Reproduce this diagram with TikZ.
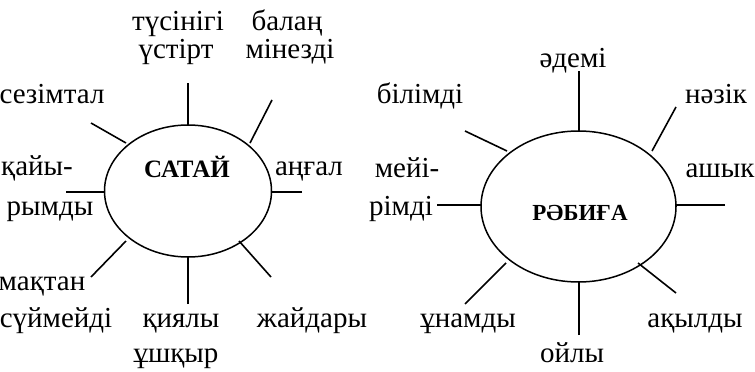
\documentclass[tikz,border=0pt]{standalone}
\usepackage{fontspec}
\setmainfont{Liberation Serif}
\usetikzlibrary{shapes.geometric}
\begin{document}
\begin{tikzpicture}[x=1pt,y=-1pt,
  lbl/.style={anchor=base,inner sep=0pt,font=\fontsize{29}{33}\selectfont},
  ttl/.style={anchor=base,inner sep=0pt,font=\fontsize{24}{28}\selectfont\bfseries},
  oval/.style={draw,ellipse,line width=1.5pt,inner sep=0pt},
  ray/.style={line width=1.6pt}]
\useasboundingbox (0,0) rectangle (755,372);
% left ellipse
\node[oval,minimum width=167pt,minimum height=132pt] (L) at (188,191) {};
\node[ttl,font=\fontsize{25}{28}\selectfont\bfseries] (Lt) at (187,177) {САТАЙ};
\node[lbl] (l1) at (178,30) {түсінігі};
\node[lbl] (l2) at (176,58) {үстірт};
\node[lbl] (l3) at (287,30) {балаң};
\node[lbl] (l4) at (290,58) {мінезді};
\node[lbl] (l5) at (52,103) {сезімтал};
\node[lbl] (l6) at (37,175) {қайы-};
\node[lbl] (l7) at (309,175) {аңғал};
\node[lbl] (l8) at (50,215) {рымды};
\node[lbl] (l9) at (42,290) {мақтан};
\node[lbl] (l10) at (56,327) {сүймейді};
\node[lbl] (l11) at (181,327) {қиялы};
\node[lbl] (l12) at (176,362) {ұшқыр};
\node[lbl] (l13) at (312,327) {жайдары};
% left rays
\coordinate (a1) at (188,83);  \coordinate (b1) at (188,125);
\coordinate (a2) at (272,100); \coordinate (b2) at (250,143);
\coordinate (a3) at (91,123);  \coordinate (b3) at (126,143);
\coordinate (a4) at (66,192);  \coordinate (b4) at (104.5,192);
\coordinate (a5) at (302,192); \coordinate (b5) at (271.5,192);
\coordinate (a6) at (91,277);  \coordinate (b6) at (126,241);
\coordinate (a7) at (188,304); \coordinate (b7) at (188,257);
\coordinate (a8) at (271,277); \coordinate (b8) at (239,241);
\foreach \i in {1,...,8} {\draw[ray] (a\i) -- (b\i);}
% right ellipse
\node[oval,minimum width=195pt,minimum height=151pt] (R) at (578.5,206.5) {};
\node[ttl,font=\fontsize{23}{26}\selectfont\bfseries] (Rt) at (580,220) {РӘБИҒА};
\node[lbl] (r1) at (573,67) {әдемі};
\node[lbl] (r2) at (420,103) {білімді};
\node[lbl] (r3) at (716,103) {нәзік};
\node[lbl] (r4) at (407,177) {мейі-};
\node[lbl] (r5) at (720,177) {ашык};
\node[lbl] (r6) at (401,215) {рімді};
\node[lbl] (r7) at (468,327) {ұнамды};
\node[lbl] (r8) at (572,362) {ойлы};
\node[lbl] (r9) at (695,327) {ақылды};
% right rays
\coordinate (c1) at (579,71);  \coordinate (d1) at (579,131);
\coordinate (c2) at (676,107); \coordinate (d2) at (652,151);
\coordinate (c3) at (465,131); \coordinate (d3) at (507,151);
\coordinate (c4) at (437,205); \coordinate (d4) at (481,205);
\coordinate (c5) at (725,205); \coordinate (d5) at (676,205);
\coordinate (c6) at (465,304); \coordinate (d6) at (506,263);
\coordinate (c7) at (579,335); \coordinate (d7) at (579,282);
\coordinate (c8) at (676,293); \coordinate (d8) at (638,263);
\foreach \i in {1,...,8} {\draw[ray] (c\i) -- (d\i);}
\end{tikzpicture}
\end{document}
